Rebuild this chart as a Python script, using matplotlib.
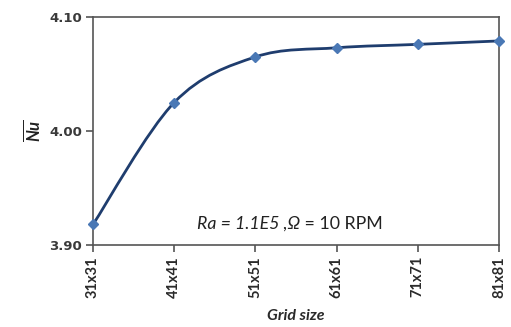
import numpy as np
import matplotlib
matplotlib.use('Agg')
import matplotlib.pyplot as plt
from matplotlib.path import Path
from matplotlib.patches import PathPatch

grid_labels = ['31x31', '41x41', '51x51', '61x61', '71x71', '81x81']
nu_values = [3.918, 4.025, 4.065, 4.073, 4.076, 4.079]
y_ticks = [3.90, 4.00, 4.10]

plt.rcParams['font.family'] = ['Lato', 'DejaVu Sans']
plt.rcParams['mathtext.fontset'] = 'custom'
plt.rcParams['mathtext.rm'] = 'Lato'
plt.rcParams['mathtext.it'] = 'Lato:italic'
plt.rcParams['mathtext.bf'] = 'Lato:bold'
plt.rcParams['mathtext.bfit'] = 'Lato:bold:italic'

fig = plt.figure(figsize=(5.11, 3.27), dpi=100)
ax = fig.add_axes([93/511, (327-245)/327, 406/511, 228/327])

x = np.arange(len(grid_labels), dtype=float)
y = np.array(nu_values)

# smoothed line like the spreadsheet one (bezier through the points)
verts = [(x[0], y[0])]
codes = [Path.MOVETO]
n = len(x)
for i in range(n - 1):
    p0 = np.array([x[max(i-1, 0)], y[max(i-1, 0)]])
    p1 = np.array([x[i], y[i]])
    p2 = np.array([x[i+1], y[i+1]])
    p3 = np.array([x[min(i+2, n-1)], y[min(i+2, n-1)]])
    c1 = p1 + (p2 - p0) / 6
    c2 = p2 - (p3 - p1) / 6
    verts += [tuple(c1), tuple(c2), tuple(p2)]
    codes += [Path.CURVE4] * 3
ax.add_patch(PathPatch(Path(verts, codes), facecolor='none', edgecolor='#1f3d6e', lw=2.0, zorder=2))
ax.plot(x, y, linestyle='none', marker='D', ms=5, color='#4a78b5', zorder=3, clip_on=False)

ax.set_xlim(0, n - 1)
ax.set_ylim(3.90, 4.10)
ax.set_yticks(y_ticks)
ax.set_yticklabels(['%.2f' % v for v in y_ticks], family='DejaVu Sans', fontweight='bold', fontsize=9.5, color='#3a3a3a')
ax.set_xticks(x)
ax.set_xticklabels(grid_labels, rotation=90, fontsize=10.5, fontweight='bold', color='#2a2a2a')

for s in ax.spines.values():
    s.set_color('#555555')
    s.set_linewidth(1.2)
ax.tick_params(axis='both', direction='out', length=5, width=1.2, color='#555555', pad=3)

ax.set_ylabel(r'$\overline{\mathbfit{Nu}}$', fontsize=12, labelpad=4, color='#222222')
ax.set_xlabel('Grid size', fontsize=11.5, fontstyle='italic', fontweight='bold', color='#2a2a2a', labelpad=8)

t1 = ax.text(0.256, 0.07, 'Ra = 1.1E5 ,\u03a9', transform=ax.transAxes, ha='left', va='baseline',
             fontsize=12.8, fontstyle='italic', color='#222222')
ax.annotate(' = 10 RPM', xy=(1, 0), xycoords=t1, ha='left', va='bottom',
            fontsize=12.8, color='#222222')

fig.savefig('out.png', dpi=100)
